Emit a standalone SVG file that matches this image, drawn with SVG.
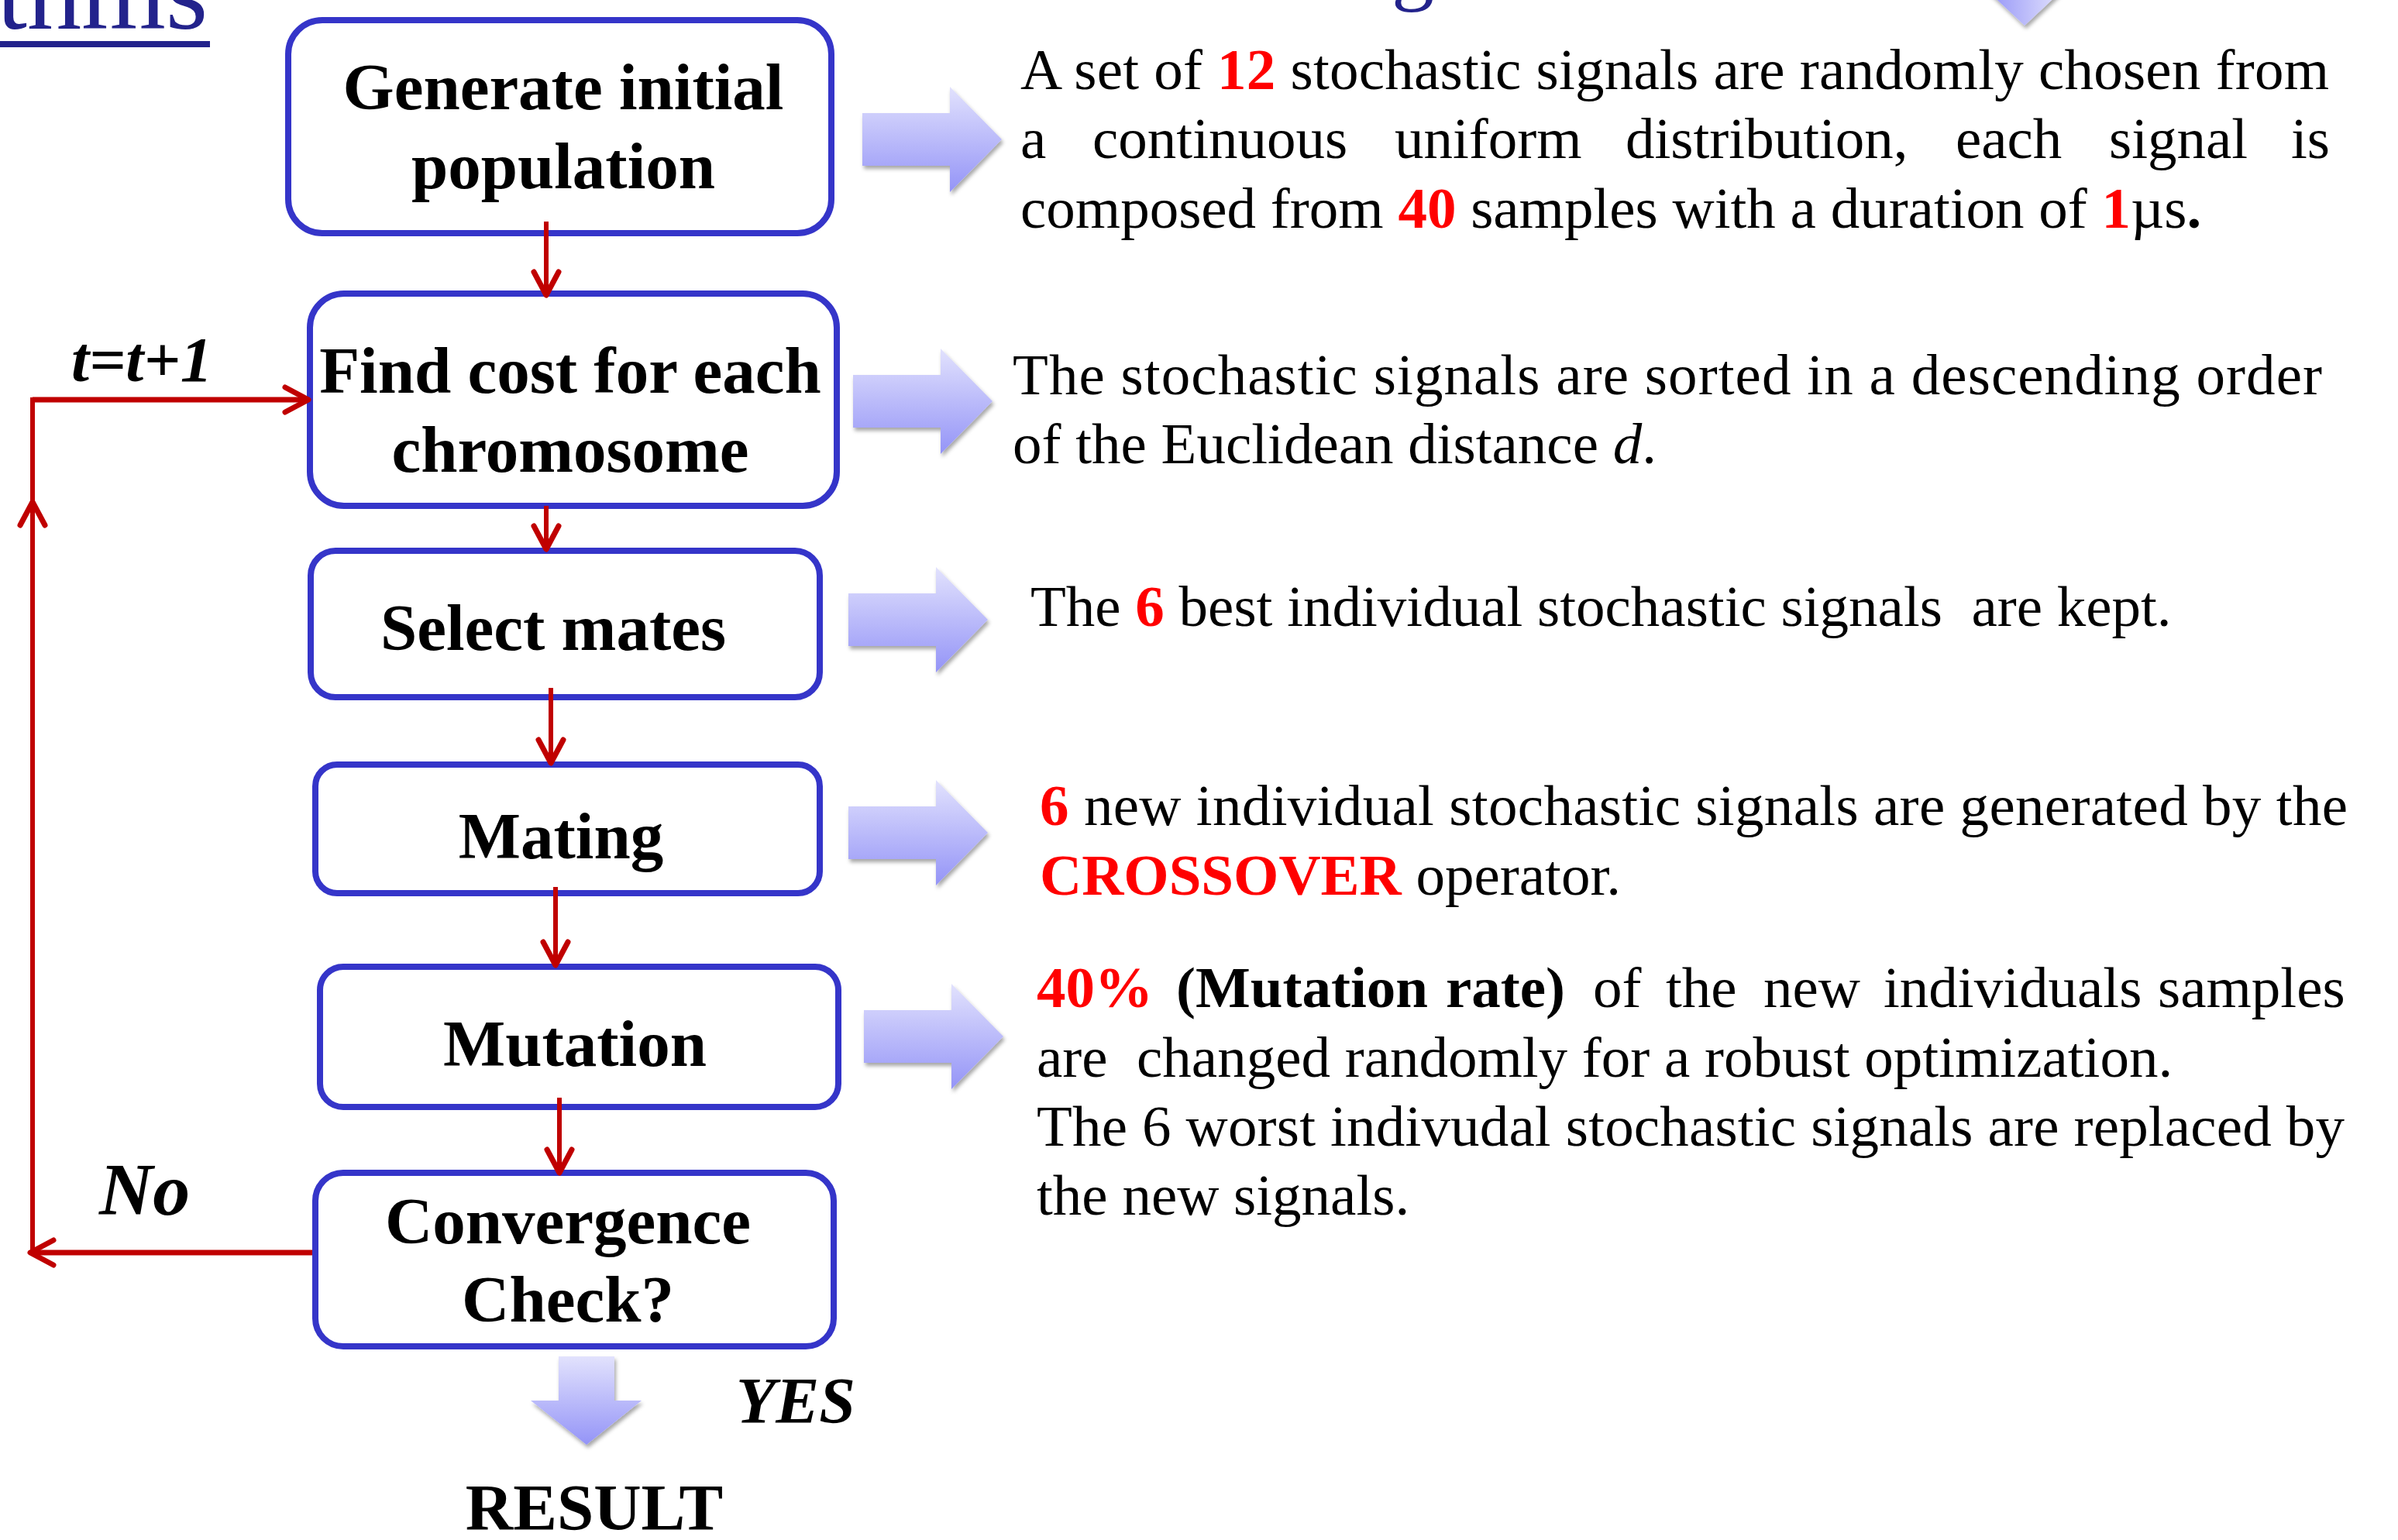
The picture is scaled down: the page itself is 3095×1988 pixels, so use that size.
<svg xmlns="http://www.w3.org/2000/svg" width="3095" height="1988" viewBox="0 0 3095 1988">
<style>
.node rect{fill:#fff;stroke:#3535c9;stroke-width:8}
.bt{font-family:"Liberation Serif","Times New Roman",serif;font-weight:bold;font-size:85px;text-anchor:middle;fill:#000}
.p{font-family:"Liberation Serif","Times New Roman",serif;font-size:75px;fill:#000}
.r{fill:#ff0000;font-weight:bold}
.b{font-weight:bold}
.lbl{font-family:"Liberation Serif","Times New Roman",serif;font-weight:bold;font-style:italic;fill:#000}
.title{font-family:"Liberation Serif","Times New Roman",serif;fill:#23238c}
.conn path{fill:none;stroke:#c00000;stroke-width:6}
.blk{fill:url(#gv);filter:url(#sh)}
</style>
<defs>
<linearGradient id="gv" x1="0" y1="0" x2="0" y2="1">
<stop offset="0" stop-color="#e2e2fd"/>
<stop offset="1" stop-color="#9494f7"/>
</linearGradient>
<linearGradient id="gh" x1="0" y1="0" x2="1" y2="0">
<stop offset="0" stop-color="#9494f7"/>
<stop offset="1" stop-color="#e2e2fd"/>
</linearGradient>
<filter id="sh" x="-20%" y="-20%" width="150%" height="150%">
<feDropShadow dx="2" dy="4" stdDeviation="2.5" flood-color="#000" flood-opacity="0.35"/>
</filter>
<path id="rarrow" d="M0,-34 H113 V-68 L180,0 L113,68 V34 H0 Z"/>
<marker id="ah" markerUnits="userSpaceOnUse" markerWidth="50" markerHeight="50" viewBox="0 0 50 50" refX="42" refY="25" orient="auto" overflow="visible">
<path d="M12,9 L42,25 L12,41" fill="none" stroke="#c00000" stroke-width="7" stroke-linecap="round" stroke-linejoin="round"/>
</marker>
</defs>
<rect width="3095" height="1988" fill="#fff"/>

<g id="title">
<text class="title" x="-4" y="37" font-size="140">thms</text>
<rect x="0" y="53" width="271" height="8" fill="#23238c"/>
<text class="title" x="1796" y="-7" font-size="110">g</text>
<path d="M2565,-12 L2661,-12 L2613,33 Z" fill="url(#gh)" filter="url(#sh)"/>
</g>

<g id="n1" class="node">
<rect x="372" y="26" width="701" height="275" rx="44"/>
<text class="bt" x="727" y="141">Generate initial</text>
<text class="bt" x="727" y="243">population</text>
</g>
<g id="n2" class="node">
<rect x="400" y="379" width="680" height="274" rx="44"/>
<text class="bt" x="736" y="507">Find cost for each</text>
<text class="bt" x="736" y="609">chromosome</text>
</g>
<g id="n3" class="node">
<rect x="401" y="711" width="657" height="189" rx="32"/>
<text class="bt" x="714" y="839">Select mates</text>
</g>
<g id="n4" class="node">
<rect x="407" y="987" width="651" height="166" rx="28"/>
<text class="bt" x="724" y="1108">Mating</text>
</g>
<g id="n5" class="node">
<rect x="413" y="1248" width="669" height="181" rx="30"/>
<text class="bt" x="742" y="1376">Mutation</text>
</g>
<g id="n6" class="node">
<rect x="407" y="1514" width="669" height="224" rx="36"/>
<text class="bt" x="733" y="1605">Convergence</text>
<text class="bt" x="733" y="1706">Check?</text>
</g>
<g id="result">
<path class="blk" d="M721,1751 H793 V1808 H828 L757,1865 L685,1808 H721 Z"/>
<text class="bt" x="767" y="1975">RESULT</text>
</g>

<g id="connectors" class="conn">
<path d="M705,286 V381" marker-end="url(#ah)"/>
<path d="M705,653 V709" marker-end="url(#ah)"/>
<path d="M711,888 V985" marker-end="url(#ah)"/>
<path d="M717,1145 V1246" marker-end="url(#ah)"/>
<path d="M722,1417 V1514" marker-end="url(#ah)"/>
<path d="M403,1617 H39" style="stroke-width:7" marker-end="url(#ah)"/>
<path d="M42,1617 V516 H398" marker-end="url(#ah)"/>
<path d="M42,516 H398" style="stroke-width:7"/>
<path d="M42,700 V648" marker-end="url(#ah)"/>
</g>

<g id="labels">
<text class="lbl" x="92" y="492" font-size="83">t=t+1</text>
<text class="lbl" x="128" y="1568" font-size="96">No</text>
<text class="lbl" x="950" y="1837" font-size="84">YES</text>
</g>

<g id="block-arrows">
<use href="#rarrow" class="blk" transform="translate(1113,180)"/>
<use href="#rarrow" class="blk" transform="translate(1101,518)"/>
<use href="#rarrow" class="blk" transform="translate(1095,800)"/>
<use href="#rarrow" class="blk" transform="translate(1095,1075)"/>
<use href="#rarrow" class="blk" transform="translate(1115,1338)"/>
</g>

<g id="desc1">
<text class="p" x="1317" y="115" textLength="1689" lengthAdjust="spacing">A set of <tspan class="r">12</tspan> stochastic signals are randomly chosen from</text>
<text class="p" y="204"><tspan x="1317">a</tspan><tspan x="1410">continuous</tspan><tspan x="1800">uniform</tspan><tspan x="2098">distribution,</tspan><tspan x="2524">each</tspan><tspan x="2722">signal</tspan><tspan x="2957">is</tspan></text>
<text class="p" x="1317" y="294">composed from <tspan class="r">40</tspan> samples with a duration of <tspan class="r">1</tspan>µs<tspan class="b">.</tspan></text>
</g>
<g id="desc2">
<text class="p" x="1307" y="509" textLength="1690" lengthAdjust="spacing">The stochastic signals are sorted in a descending order</text>
<text class="p" x="1307" y="598">of the Euclidean distance <tspan font-style="italic">d</tspan>.</text>
</g>
<g id="desc3">
<text class="p" x="1330" y="808" xml:space="preserve">The <tspan class="r">6</tspan> best individual stochastic signals  are kept.</text>
</g>
<g id="desc4">
<text class="p" x="1342" y="1065" textLength="1688" lengthAdjust="spacing"><tspan class="r">6</tspan> new individual stochastic signals are generated by the</text>
<text class="p" x="1342" y="1155"><tspan class="r">CROSSOVER</tspan> operator.</text>
</g>
<g id="desc5">
<text class="p" y="1300"><tspan x="1338" class="r">40%</tspan><tspan x="1518" class="b">(Mutation</tspan><tspan x="1866" class="b">rate)</tspan><tspan x="2056">of</tspan><tspan x="2150">the</tspan><tspan x="2276">new</tspan><tspan x="2431">individuals</tspan><tspan x="2785">samples</tspan></text>
<text class="p" x="1338" y="1390" xml:space="preserve">are  changed randomly for a robust optimization.</text>
<text class="p" x="1338" y="1479" textLength="1688" lengthAdjust="spacing">The 6 worst indivudal stochastic signals are replaced by</text>
<text class="p" x="1338" y="1568">the new signals.</text>
</g>
</svg>
